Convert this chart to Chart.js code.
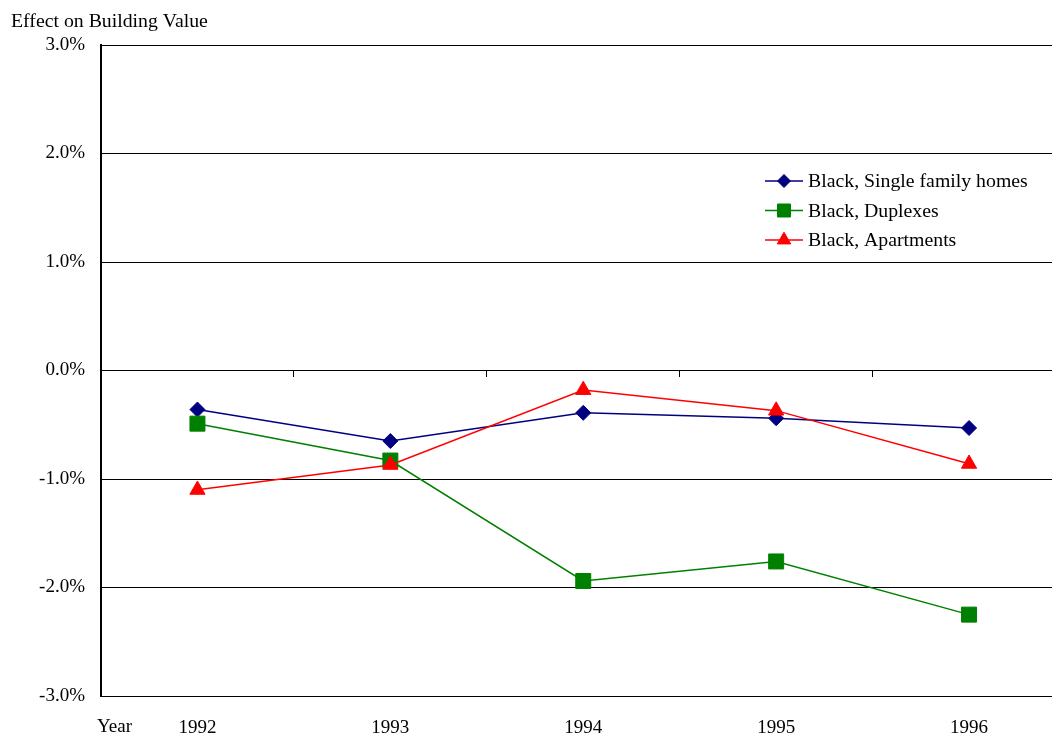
<!DOCTYPE html>
<html>
<head>
<meta charset="utf-8">
<script src="https://cdn.jsdelivr.net/npm/chart.js@4/dist/chart.umd.min.js"></script>
<style>
  html, body { margin: 0; padding: 0; background: #fff; overflow: hidden; }
  #wrap { width: 1052px; height: 736px; }
</style>
</head>
<body>
<div id="wrap"><canvas id="c" width="1052" height="736"></canvas></div>
<script>
// Year-by-year effect on building value, in percent
const years = [1992, 1993, 1994, 1995, 1996];
const singleFamily = [-0.36, -0.65, -0.39, -0.44, -0.53];
const duplexes = [-0.49, -0.83, -1.94, -1.76, -2.25];
const apartments = [-1.10, -0.87, -0.18, -0.37, -0.86];
const yTickValues = [-3, -2, -1, 0, 1, 2, 3];
const seriesNames = ['Black, Single family homes', 'Black, Duplexes', 'Black, Apartments'];
const yAxisTitle = 'Effect on Building Value';
const xAxisTitle = 'Year';

const FONT = "'Liberation Serif', 'Times New Roman', serif";
const FONT_SIZE = 19;       // tick labels
const TEXT_SIZE = 19.8;     // legend and axis captions

const series = [
  { name: seriesNames[0], values: singleFamily, color: '#000080', style: 'rectRot', radius: 7.5, legendRadius: 6.5, order: 2 },
  { name: seriesNames[1], values: duplexes,     color: '#008000', style: 'rect',    radius: 10.6, legendRadius: 9.2, order: 1 },
  { name: seriesNames[2], values: apartments,   color: '#FF0000', style: 'triangle', radius: 8.8, legendRadius: 7.8, order: 0 }
];

// Legend in the upper right of the plot: line segment with marker, then name
const lineLegend = {
  id: 'lineLegend',
  afterDraw(chart) {
    const ctx = chart.ctx;
    const x0 = 765, x1 = 803, tx = 808;
    const rows = [181, 210.5, 240];
    ctx.save();
    series.forEach((s, i) => {
      const y = rows[i];
      ctx.strokeStyle = s.color;
      ctx.lineWidth = 1.5;
      ctx.beginPath();
      ctx.moveTo(x0, y);
      ctx.lineTo(x1, y);
      ctx.stroke();
      ctx.fillStyle = s.color;
      ctx.lineWidth = 1;
      Chart.helpers.drawPoint(ctx, { pointStyle: s.style, radius: s.legendRadius, rotation: 0, borderWidth: 1 }, (x0 + x1) / 2, y);
      ctx.fillStyle = '#000';
      ctx.font = TEXT_SIZE + 'px ' + FONT;
      ctx.textAlign = 'left';
      ctx.textBaseline = 'middle';
      ctx.fillText(s.name, tx, y + 1);
    });
    // axis captions
    ctx.fillStyle = '#000';
    ctx.font = TEXT_SIZE + 'px ' + FONT;
    ctx.textAlign = 'left';
    ctx.textBaseline = 'alphabetic';
    ctx.fillText(yAxisTitle, 11, 27);
    ctx.font = FONT_SIZE + 'px ' + FONT;
    ctx.fillText(xAxisTitle, 97, 732);
    ctx.restore();
  }
};

new Chart(document.getElementById('c'), {
  type: 'line',
  data: {
    datasets: series.map(s => ({
      label: s.name,
      data: years.map((yr, i) => ({ x: yr, y: s.values[i] })),
      borderColor: s.color,
      backgroundColor: s.color,
      borderWidth: 1.5,
      pointStyle: s.style,
      pointRadius: s.radius,
      pointHoverRadius: s.radius,
      pointBackgroundColor: s.color,
      pointBorderColor: s.color,
      pointBorderWidth: 1,
      tension: 0,
      order: s.order
    }))
  },
  options: {
    responsive: false,
    animation: false,
    events: [],
    layout: { autoPadding: false, padding: { top: 45, left: 0, right: 0, bottom: 0 } },
    plugins: { legend: { display: false }, tooltip: { enabled: false } },
    scales: {
      x: {
        type: 'linear',
        position: 'bottom',
        min: 1991.5,
        max: 1996.43,
        afterBuildTicks(scale) { scale.ticks = years.map(v => ({ value: v })); },
        afterFit(scale) {
          scale.height = 40;
          scale.paddingLeft = 0;
          scale.paddingRight = 0;
        },
        grid: { display: false },
        border: { display: false },
        ticks: {
          color: '#000',
          padding: 13,
          maxRotation: 0,
          autoSkip: false,
          font: { family: FONT, size: FONT_SIZE },
          callback: v => String(v)
        }
      },
      xTicks: {
        type: 'linear',
        axis: 'x',
        position: { y: 0 },
        min: 1991.5,
        max: 1996.43,
        afterBuildTicks(scale) {
          scale.ticks = years.slice(0, -1).map(v => ({ value: v + 0.5 }));
        },
        afterFit(scale) {
          scale.paddingLeft = 0;
          scale.paddingRight = 0;
        },
        grid: { display: true, drawOnChartArea: false, drawTicks: true, tickLength: 6, color: '#000', lineWidth: 1 },
        border: { display: false },
        ticks: { display: false }
      },
      y: {
        type: 'linear',
        min: -3,
        max: 3,
        afterBuildTicks(scale) { scale.ticks = yTickValues.map(v => ({ value: v })); },
        afterFit(scale) {
          scale.width = 101;
          scale.paddingTop = 0;
          scale.paddingBottom = 0;
        },
        grid: { color: '#000', lineWidth: 1, drawTicks: false },
        border: { display: true, color: '#000', width: 2 },
        ticks: {
          color: '#000',
          padding: 16,
          font: { family: FONT, size: FONT_SIZE },
          callback: v => v.toFixed(1) + '%'
        }
      }
    }
  },
  plugins: [lineLegend]
});
</script>
</body>
</html>
